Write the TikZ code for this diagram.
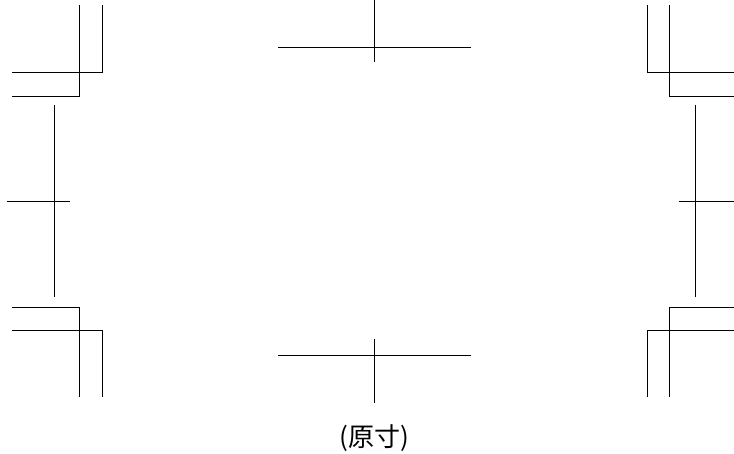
\documentclass[tikz,border=0pt]{standalone}
\usepackage{fontspec}
\newfontfamily\cjk{Noto Sans CJK JP}

\begin{document}
\begin{tikzpicture}[x=1pt,y=-1pt,tombo/.style={line width=0.8pt}]
\useasboundingbox (0,0) rectangle (734,454);
% corner marks, left
\draw[tombo] (12,96) -- (79,96) -- (79,5);
\draw[tombo] (12,72) -- (102,72) -- (102,5);
\draw[tombo] (12,307) -- (79,307) -- (79,397);
\draw[tombo] (12,330) -- (102,330) -- (102,397);
% corner marks, right
\draw[tombo] (736,96) -- (669,96) -- (669,5);
\draw[tombo] (736,72) -- (647,72) -- (647,5);
\draw[tombo] (736,307) -- (669,307) -- (669,397);
\draw[tombo] (736,330) -- (647,330) -- (647,397);
% centre marks
\draw[tombo] (278,47) -- (471,47);
\draw[tombo] (374,0) -- (374,62);
\draw[tombo] (278,355) -- (471,355);
\draw[tombo] (374,339) -- (374,403);
\draw[tombo] (7,201) -- (70,201);
\draw[tombo] (54,105) -- (54,297);
\draw[tombo] (679,201) -- (741,201);
\draw[tombo] (695,105) -- (695,297);
\node (size) at (374,438) {\cjk\fontsize{26}{30}\selectfont (原寸)};
\end{tikzpicture}
\end{document}
